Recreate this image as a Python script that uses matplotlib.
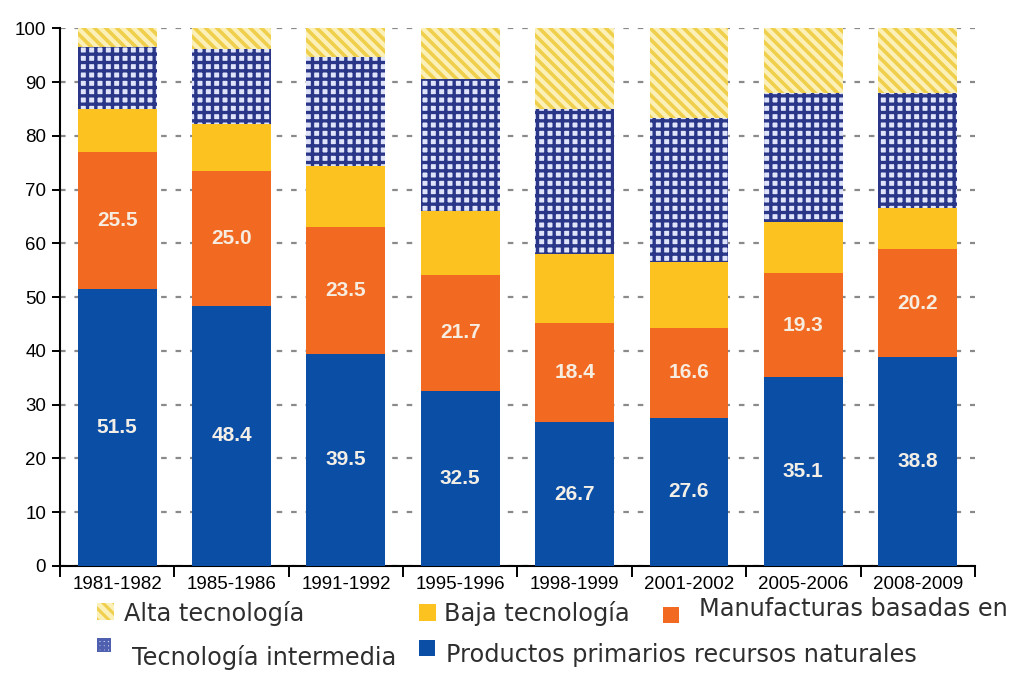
import numpy as np
import matplotlib.pyplot as plt
from matplotlib.patches import Rectangle

# Export structure by technological intensity (% of total)
periodos = ['1981-1982', '1985-1986', '1991-1992', '1995-1996',
            '1998-1999', '2001-2002', '2005-2006', '2008-2009']
primarios = [51.5, 48.4, 39.5, 32.5, 26.7, 27.6, 35.1, 38.8]
manufacturas_rn = [25.5, 25.0, 23.5, 21.7, 18.4, 16.6, 19.3, 20.2]
baja = [8.0, 8.8, 11.3, 11.8, 13.0, 12.3, 9.5, 7.5]
intermedia = [11.5, 14.0, 20.3, 24.6, 26.8, 26.8, 24.0, 21.4]
alta = [3.5, 3.8, 5.4, 9.4, 15.1, 16.7, 12.1, 12.1]

c_prim = '#0b4ea6'
c_manuf = '#f26a22'
c_baja = '#fcc220'
c_inter_bg = '#dfe4fb'
c_inter_ln = '#2a3788'
c_alta_bg = '#fbf0b8'
c_alta_ln = '#efcf4c'

fig = plt.figure(figsize=(10.2, 6.73), dpi=100)
ax = fig.add_axes([0.0588, 0.159, 0.897, 0.799])

x = np.arange(len(periodos))
w = 0.69
b1 = np.array(primarios)
b2 = b1 + np.array(manufacturas_rn)
b3 = b2 + np.array(baja)
b4 = b3 + np.array(intermedia)

ax.bar(x, primarios, w, color=c_prim, zorder=3)
ax.bar(x, manufacturas_rn, w, bottom=b1, color=c_manuf, zorder=3)
ax.bar(x, baja, w, bottom=b2, color=c_baja, zorder=3)
plt.rcParams['hatch.linewidth'] = 2.4
ax.bar(x, intermedia, w, bottom=b3, facecolor=c_inter_bg, edgecolor=c_inter_ln,
       linewidth=0, hatch='++', zorder=3)
plt.rcParams['hatch.linewidth'] = 2.6
ax.bar(x, alta, w, bottom=b4, facecolor=c_alta_bg, edgecolor=c_alta_ln,
       linewidth=0, hatch='\\\\\\', zorder=3)

# value labels for the two bottom segments
for i in x:
    ax.text(i, primarios[i] / 2, f'{primarios[i]:.1f}', ha='center', va='center',
            color='#f3efe6', fontsize=15, fontweight='bold', family='Liberation Sans', zorder=4)
    ax.text(i, b1[i] + manufacturas_rn[i] / 2, f'{manufacturas_rn[i]:.1f}', ha='center',
            va='center', color='#f6ece0', fontsize=15, fontweight='bold',
            family='Liberation Sans', zorder=4)

ax.set_xlim(-0.5, len(periodos) - 0.5)
ax.set_ylim(0, 100)
ax.set_yticks(np.arange(0, 101, 10))
ax.yaxis.grid(True, color='#8a8a8a', linestyle=(0, (2.5, 4)), linewidth=1.6, zorder=0)
ax.set_axisbelow(True)

ax.set_xticks(x)
ax.set_xticklabels(periodos)
ax.set_xticks(np.arange(-0.5, len(periodos)), minor=True)
ax.tick_params(axis='x', which='major', length=0, pad=7, labelsize=13.5)
ax.tick_params(axis='x', which='minor', length=8, width=1.4, direction='out')
ax.tick_params(axis='y', length=6, width=1.4, labelsize=13.5, pad=4)
for lab in ax.get_xticklabels() + ax.get_yticklabels():
    lab.set_family('Liberation Sans')

for s in ['top', 'right']:
    ax.spines[s].set_visible(False)
ax.spines['left'].set_linewidth(1.5)
ax.spines['bottom'].set_linewidth(1.5)

# legend drawn by hand below the axes
W, H = 1020, 673
def fx(px):
    return px / W
def fy(py):
    return 1 - py / H

def icon(x0, y0, size, face, edge=None, hatch=None):
    r = Rectangle((fx(x0), fy(y0 + size)), size / W, size / H, transform=fig.transFigure,
                  facecolor=face, edgecolor=edge if edge else face, linewidth=0, hatch=hatch)
    fig.add_artist(r)

plt.rcParams['hatch.linewidth'] = 2.2
icon(97, 603, 17, c_alta_bg, c_alta_ln, '\\\\\\')
icon(419, 604, 17, c_baja)
icon(663, 607, 16, c_manuf)
icon(97, 638, 14, 'white', '#5060b0', '++++')
icon(419, 640, 16, c_prim)

lkw = dict(fontsize=17.3, family='DejaVu Sans', color='#2e2e2e', va='center', ha='left')
fig.text(fx(124), fy(613), 'Alta tecnología', **lkw)
fig.text(fx(444), fy(613), 'Baja tecnología', **lkw)
fig.text(fx(699), fy(609), 'Manufacturas basadas en', **lkw)
fig.text(fx(132), fy(658), 'Tecnología intermedia', **lkw)
fig.text(fx(446), fy(655), 'Productos primarios', **lkw)
fig.text(fx(694), fy(655), 'recursos naturales', **lkw)

fig.savefig('out.png', dpi=100)
